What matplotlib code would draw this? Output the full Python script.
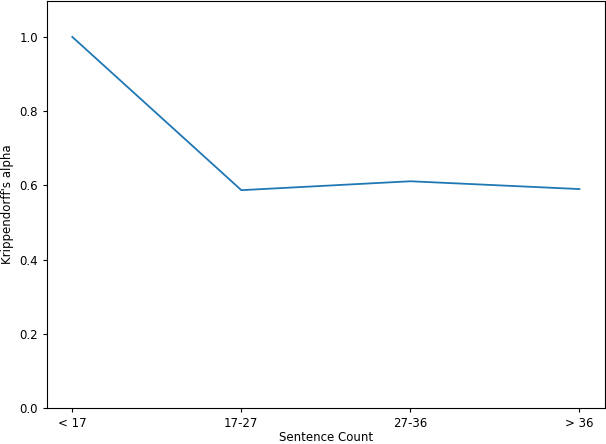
import matplotlib
matplotlib.use("Agg")
import matplotlib.pyplot as plt

categories = ["< 17", "17-27", "27-36", "> 36"]
alpha = [1.0, 0.587, 0.611, 0.590]

fig = plt.figure(figsize=(6.06, 4.44), dpi=100)
ax = fig.add_axes([0.078, 0.081, 0.92, 0.917])
ax.plot(categories, alpha, color="#1f77b4", linewidth=1.3)
ax.set_ylim(0, 1.097)
ax.set_xlim(-0.148, 3.15)
ax.set_yticks([0.0, 0.2, 0.4, 0.6, 0.8, 1.0])
ax.tick_params(labelsize=8.5, length=3)
ax.set_xlabel("Sentence Count", fontsize=8.5, labelpad=1)
ax.set_ylabel("Krippendorff's alpha", fontsize=8.5, labelpad=4)

fig.savefig("out.png", dpi=100)
